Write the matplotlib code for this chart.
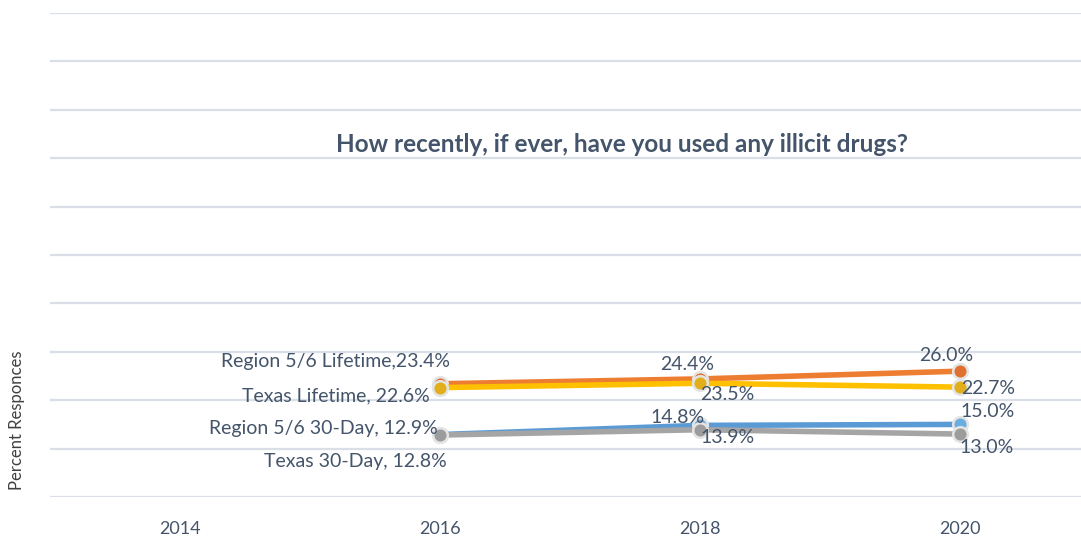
import numpy as np
import matplotlib.pyplot as plt

# survey trend: recent illicit drug use
years = ['2014', '2016', '2018', '2020']
region_life = [np.nan, 23.4, 24.4, 26.0]
texas_life = [np.nan, 22.6, 23.5, 22.7]
region_30 = [np.nan, 12.9, 14.8, 15.0]
texas_30 = [np.nan, 12.8, 13.9, 13.0]

txt = '#44546A'
plt.rcParams['font.family'] = ['Lato', 'DejaVu Sans']

fig = plt.figure(figsize=(10.81, 5.36), dpi=100)
ax = fig.add_axes([50 / 1081, 39 / 536, 1031 / 1081, 484 / 536])

x = np.arange(len(years))
series = [
    (region_life, '#ED7D31', '#E07030'),
    (texas_life, '#FFC000', '#E2AE1C'),
    (region_30, '#5B9BD5', '#6AAEE0'),
    (texas_30, '#A5A5A5', '#9C9C9C'),
]
for vals, col, mcol in series:
    ax.plot(x, vals, color=col, lw=4, marker='o', ms=10.5,
            mfc=mcol, mec='#E4E4E4', mew=1.8, solid_capstyle='butt')

# data labels: (series, index, text, dx, dy, ha) offsets in pixels
labels = [
    (region_life, 1, 'Region 5/6 Lifetime,23.4%', 10, 22, 'right'),
    (texas_life, 1, 'Texas Lifetime, 22.6%', -10, -8, 'right'),
    (region_30, 1, 'Region 5/6 30-Day, 12.9%', -2, 6, 'right'),
    (texas_30, 1, 'Texas 30-Day, 12.8%', 7, -26, 'right'),
    (region_life, 2, '24.4%', -13, 14, 'center'),
    (texas_life, 2, '23.5%', 27, -11, 'center'),
    (region_30, 2, '14.8%', -22, 8, 'center'),
    (texas_30, 2, '13.9%', 28, -8, 'center'),
    (region_life, 3, '26.0%', -14, 16, 'center'),
    (texas_life, 3, '22.7%', 28, -1, 'center'),
    (region_30, 3, '15.0%', 28, 13, 'center'),
    (texas_30, 3, '13.0%', 27, -13, 'center'),
]
for vals, i, s, dx, dy, ha in labels:
    ax.annotate(s, (x[i], vals[i]), xytext=(dx, dy), textcoords='offset pixels',
                ha=ha, va='center', fontsize=14, color=txt)

ax.set_xlim(-0.5, -0.5 + 1031 / 260)
ax.set_ylim(0, 100)
ax.set_yticks(np.arange(0, 101, 10))
ax.set_yticklabels([])
ax.tick_params(axis='y', length=0)
ax.tick_params(axis='x', length=0, labelsize=13, labelcolor=txt, pad=17)
ax.set_xticks(x)
ax.set_xticklabels(years)
ax.grid(axis='y', color='#D9DEE7', lw=1.6)
ax.set_axisbelow(True)
for sp in ax.spines.values():
    sp.set_visible(False)

ax.text(0.555, (497 - 145) / 484, 'How recently, if ever, have you used any illicit drugs?',
        transform=ax.transAxes, ha='center', va='center', fontsize=17.5,
        fontweight='bold', color=txt)
fig.text(17 / 1081, 1 - 420 / 536, 'Percent Responces', rotation=90, ha='center',
         va='center', fontsize=12, color='#404040')

fig.savefig('out.png', dpi=100)
